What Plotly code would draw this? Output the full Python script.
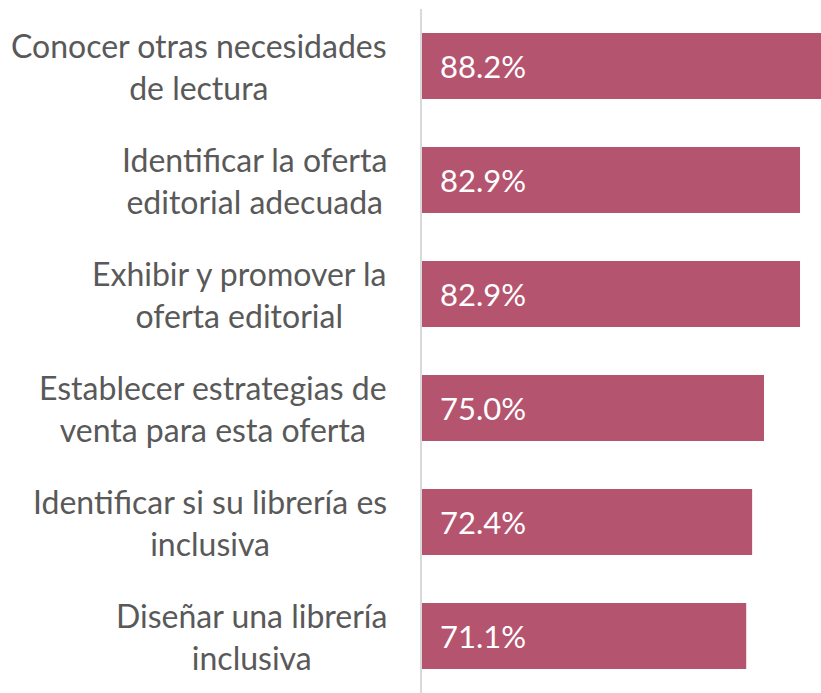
import plotly.graph_objects as go

# Data (top to bottom)
categories = [
    "Conocer otras necesidades<br>de lectura",
    "Identificar la oferta<br>editorial adecuada",
    "Exhibir y promover la<br>oferta editorial",
    "Establecer estrategias de<br>venta para esta oferta",
    "Identificar si su librería es<br>inclusiva",
    "Diseñar una librería<br>inclusiva",
]
values = [88.2, 82.9, 82.9, 75.0, 72.4, 71.1]
value_labels = ["88.2%", "82.9%", "82.9%", "75.0%", "72.4%", "71.1%"]

bar_color = "#B5546F"
text_grey = "#595959"
font_family = "Lato, 'Open Sans', sans-serif"

fig = go.Figure()

fig.add_trace(go.Bar(
    x=values,
    y=categories,
    orientation="h",
    marker=dict(color=bar_color, line=dict(width=0)),
    hoverinfo="skip",
))

# value labels sitting inside each bar near its base
for cat, lab in zip(categories, value_labels):
    fig.add_annotation(
        x=0, y=cat, xref="x", yref="y",
        text=lab, showarrow=False,
        xanchor="left", yanchor="middle", xshift=16,
        font=dict(family=font_family, size=31, color="white"),
    )

# category labels: block right-aligned, lines centred
for cat in categories:
    fig.add_annotation(
        x=0, y=cat, xref="paper", yref="y",
        text=cat, showarrow=False, align="center",
        xanchor="right", yanchor="middle", xshift=-33,
        font=dict(family=font_family, size=32, color=text_grey),
    )

fig.update_layout(
    width=821, height=693,
    margin=dict(l=422, r=0, t=9, b=0),
    paper_bgcolor="white",
    plot_bgcolor="white",
    showlegend=False,
    bargap=0.42,
    xaxis=dict(range=[0, 87.5], visible=False, fixedrange=True),
    yaxis=dict(
        autorange="reversed",
        showticklabels=False,
        showgrid=False,
        zeroline=False,
        showline=True,
        linecolor="#D9D9D9",
        linewidth=2,
        ticks="",
        fixedrange=True,
    ),
)

# page body margin would push the figure off the window edges
fig.write_html("out.html", config={"displayModeBar": False},
               post_script="document.body.style.margin='0';")
